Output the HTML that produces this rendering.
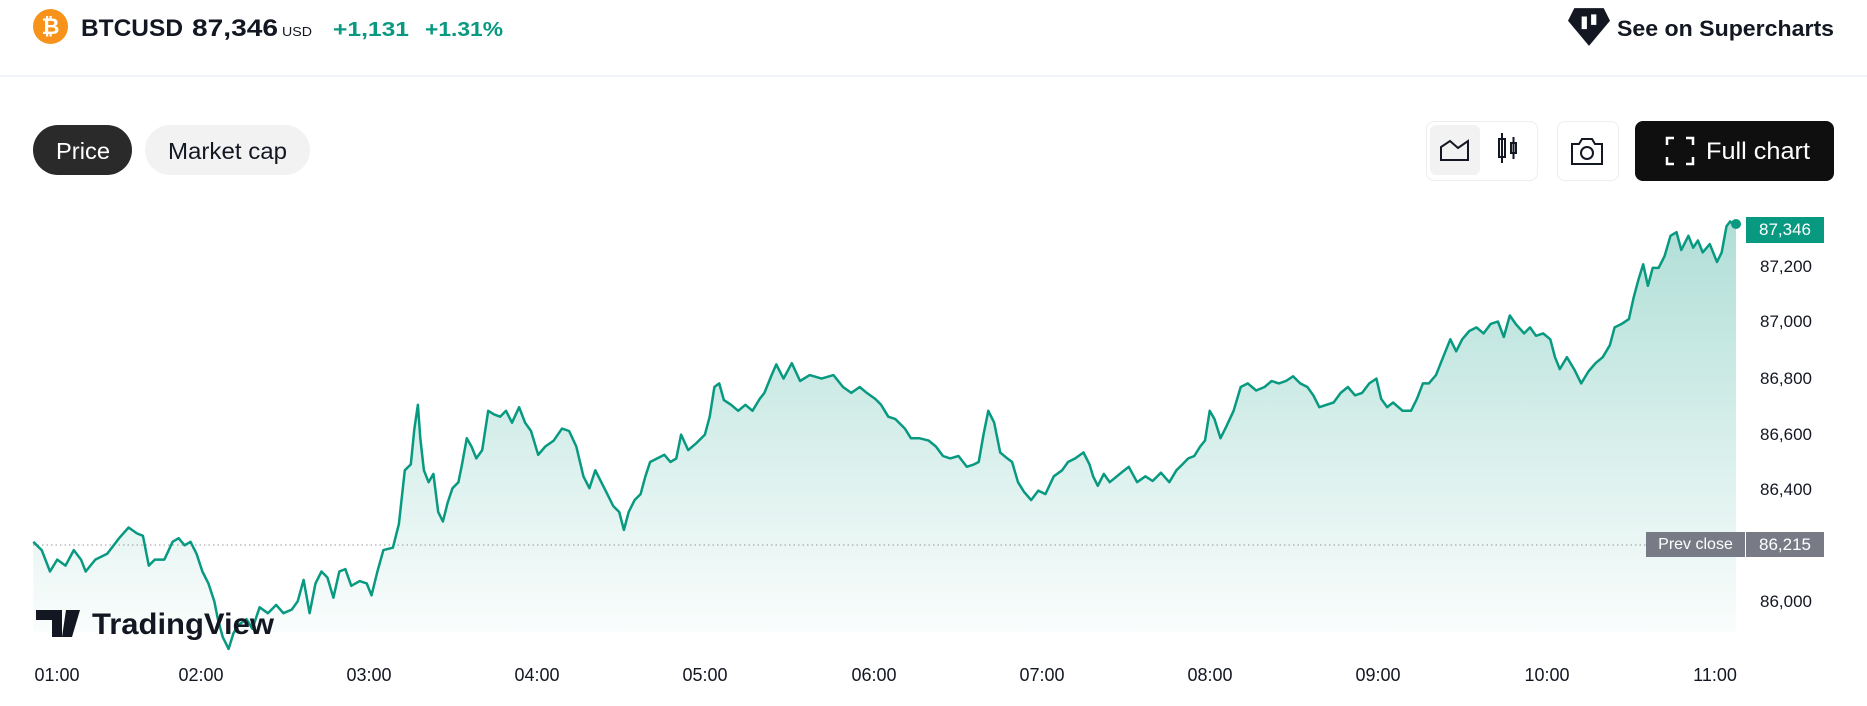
<!DOCTYPE html>
<html><head><meta charset="utf-8">
<style>
body{margin:0;width:1867px;height:706px;background:#fff;font-family:"Liberation Sans",sans-serif;position:relative;overflow:hidden;color:#131722}
.a{position:absolute;white-space:nowrap}
.yl{position:absolute;left:1760px;font-size:17px;color:#131722}
.xl{position:absolute;top:665px;font-size:18px;transform:translateX(-50%);color:#131722}
</style></head><body>
<div class="a" style="left:33px;top:9px;width:35px;height:35px;border-radius:50%;background:#f7931a;color:#fff;font-size:22px;font-weight:bold;text-align:center;line-height:35px">₿</div>
<div class="a" style="left:0;top:75px;width:1867px;height:2px;background:#f0f3fa"></div>
<div class="a" style="left:33px;top:125px;width:99px;height:50px;border-radius:25px;background:#2a2a2a"></div>
<div class="a" style="left:145px;top:125px;width:165px;height:50px;border-radius:25px;background:#f2f2f2"></div>
<svg class="a" style="left:1568px;top:8px" width="42" height="38" viewBox="0 0 40 36"><path d="M6 0H34L40 12L20 36L0 12Z" fill="#131722"/><rect x="13" y="8" width="5" height="12" fill="#fff"/><rect x="22" y="6" width="5" height="10" fill="#fff"/></svg>
<div class="a" style="left:1426px;top:121px;width:110px;height:58px;border:1px solid #eee;border-radius:8px"></div>
<div class="a" style="left:1430px;top:125px;width:50px;height:50px;background:#f2f2f2;border-radius:6px"></div>
<svg class="a" style="left:1438px;top:137px" width="34" height="26"><path d="M3 23V10L12 4L20 11L30 4V23Z" fill="none" stroke="#131722" stroke-width="2"/></svg>
<svg class="a" style="left:1496px;top:133px" width="24" height="34"><rect x="3" y="6" width="6" height="18" fill="none" stroke="#131722" stroke-width="2"/><line x1="6" y1="0" x2="6" y2="30" stroke="#131722" stroke-width="2"/><rect x="15" y="10" width="5" height="10" fill="none" stroke="#131722" stroke-width="2"/><line x1="17.5" y1="4" x2="17.5" y2="26" stroke="#131722" stroke-width="2"/></svg>
<div class="a" style="left:1557px;top:121px;width:60px;height:58px;border:1px solid #eee;border-radius:8px"></div>
<svg class="a" style="left:1570px;top:136px" width="34" height="30"><path d="M2 8H9L12 3H22L25 8H32V28H2Z" fill="none" stroke="#131722" stroke-width="2"/><circle cx="17" cy="17" r="6" fill="none" stroke="#131722" stroke-width="2"/></svg>
<div class="a" style="left:1635px;top:121px;width:199px;height:60px;background:#0f0f0f;border-radius:8px"></div>
<svg class="a" style="left:1665px;top:136px" width="30" height="30"><path d="M2 9V2H9M21 2H28V9M28 21V28H21M9 28H2V21" fill="none" stroke="#fff" stroke-width="2.5"/></svg>

<svg class="a" style="left:0;top:0" width="1867" height="706" font-family="Liberation Sans, sans-serif">
<defs><linearGradient id="g" gradientUnits="userSpaceOnUse" x1="0" y1="220" x2="0" y2="632"><stop offset="0" stop-color="#089981" stop-opacity="0.32"/><stop offset="1" stop-color="#089981" stop-opacity="0.02"/></linearGradient></defs>
<text x="81" y="36" font-size="24" font-weight="bold" fill="#131722" textLength="102" lengthAdjust="spacingAndGlyphs">BTCUSD</text>
<text x="192" y="36" font-size="24" font-weight="bold" fill="#131722" textLength="86" lengthAdjust="spacingAndGlyphs">87,346</text>
<text x="282" y="36" font-size="13" fill="#131722" textLength="30" lengthAdjust="spacingAndGlyphs">USD</text>
<text x="333" y="36" font-size="20" font-weight="bold" fill="#089981" textLength="76" lengthAdjust="spacingAndGlyphs">+1,131</text>
<text x="425" y="36" font-size="20" font-weight="bold" fill="#089981" textLength="78" lengthAdjust="spacingAndGlyphs">+1.31%</text>
<text x="1617" y="36" font-size="22" font-weight="bold" fill="#131722" textLength="217" lengthAdjust="spacingAndGlyphs">See on Supercharts</text>
<text x="56" y="159" font-size="23" fill="#fff" textLength="54" lengthAdjust="spacingAndGlyphs">Price</text>
<text x="168" y="159" font-size="23" fill="#131722" textLength="119" lengthAdjust="spacingAndGlyphs">Market cap</text>
<text x="1706" y="159" font-size="24" fill="#fff" textLength="104" lengthAdjust="spacingAndGlyphs">Full chart</text>
<path id="fill" fill="url(#g)"/>
<line x1="33" y1="545" x2="1646" y2="545" stroke="#9598a1" stroke-dasharray="1.5 3" stroke-width="1"/>
<path id="ln" fill="none" stroke="#089981" stroke-width="2.5" stroke-linejoin="round"/>
<circle cx="1736" cy="224" r="5" fill="#089981"/>
<path d="M36 610H62V637H52V620H36Z" fill="#131722"/><path d="M66 610H80L72 637H62Z" fill="#131722"/>
<text x="92" y="634" font-size="30" font-weight="bold" fill="#131722" textLength="182" lengthAdjust="spacingAndGlyphs">TradingView</text>
</svg>
<div class="a" style="left:1746px;top:217px;width:78px;height:26px;background:#089981;color:#fff;font-size:17px;text-align:center;line-height:26px">87,346</div>
<div class="yl" style="top:257px">87,200</div>
<div class="yl" style="top:312px">87,000</div>
<div class="yl" style="top:369px">86,800</div>
<div class="yl" style="top:425px">86,600</div>
<div class="yl" style="top:480px">86,400</div>
<div class="yl" style="top:592px">86,000</div>
<div class="a" style="left:1646px;top:532px;width:99px;height:25px;background:#787b86;color:#fff;font-size:16px;text-align:center;line-height:25px">Prev close</div>
<div class="a" style="left:1746px;top:532px;width:78px;height:25px;background:#787b86;color:#fff;font-size:17px;text-align:center;line-height:25px">86,215</div>
<div class="xl" style="left:57px">01:00</div>
<div class="xl" style="left:201px">02:00</div>
<div class="xl" style="left:369px">03:00</div>
<div class="xl" style="left:537px">04:00</div>
<div class="xl" style="left:705px">05:00</div>
<div class="xl" style="left:874px">06:00</div>
<div class="xl" style="left:1042px">07:00</div>
<div class="xl" style="left:1210px">08:00</div>
<div class="xl" style="left:1378px">09:00</div>
<div class="xl" style="left:1547px">10:00</div>
<div class="xl" style="left:1715px">11:00</div>
<script>
var p=[28,455,35,462,42,480,48,470,55,475,62,462,68,470,72,480,80,470,90,465,100,452,108,443,115,448,120,450,125,475,130,470,138,470,145,455,150,452,155,458,160,455,165,465,170,480,175,490,180,505,183,520,187,535,192,545,196,532,200,525,207,520,212,528,218,510,225,515,232,508,238,515,245,512,250,505,255,487,260,515,265,490,270,480,275,485,280,502,285,480,290,478,295,492,302,488,308,490,312,500,317,480,322,462,330,460,335,440,340,395,345,390,348,360,351,340,353,368,356,395,360,405,364,398,368,430,372,438,376,422,380,410,385,405,388,390,392,368,396,375,400,385,405,378,410,345,415,348,420,350,425,345,430,355,436,342,441,355,446,362,452,382,458,375,465,370,472,360,478,362,484,375,490,400,495,410,500,395,505,405,510,415,515,425,520,430,524,445,528,430,533,420,538,415,542,400,546,388,552,385,558,382,563,388,568,385,572,365,578,378,585,372,592,365,596,350,600,325,604,322,608,336,614,340,620,345,626,340,632,345,638,335,642,330,648,315,652,306,658,318,665,305,672,320,680,315,690,318,700,315,708,325,715,330,722,325,728,330,735,335,740,340,746,350,752,352,760,360,765,368,772,368,780,370,786,375,792,383,798,385,805,383,812,392,818,390,822,388,826,365,830,345,835,355,840,380,846,385,850,388,855,405,860,413,866,420,872,412,878,415,885,400,892,395,897,388,903,385,910,380,915,390,918,400,922,408,927,398,932,405,938,400,943,396,948,392,955,405,962,400,968,404,975,397,982,405,988,395,993,390,998,385,1003,383,1008,375,1012,370,1016,345,1020,352,1025,368,1030,358,1036,345,1042,325,1048,322,1055,328,1062,325,1068,320,1074,322,1080,320,1086,316,1092,322,1098,325,1103,332,1108,342,1114,340,1120,338,1126,330,1132,325,1138,332,1144,330,1150,322,1156,318,1160,335,1165,342,1170,338,1178,345,1185,345,1190,335,1195,322,1200,322,1206,315,1212,300,1218,285,1223,295,1228,285,1234,278,1240,275,1246,280,1252,272,1258,270,1263,283,1268,265,1273,272,1280,280,1285,275,1290,282,1296,280,1302,285,1306,300,1310,310,1316,300,1322,310,1328,322,1334,312,1340,305,1346,300,1352,290,1356,275,1362,272,1368,268,1372,250,1376,235,1380,222,1384,240,1388,225,1393,225,1398,215,1403,198,1408,195,1412,210,1418,198,1422,208,1426,202,1430,212,1436,205,1442,220,1446,212,1450,190,1453,186,1458,190];
var s=1867/1568,d="";
for(var i=0;i<p.length;i+=2){d+=(i?"L":"M")+(p[i]*s).toFixed(1)+" "+(p[i+1]*s).toFixed(1);}
document.getElementById("ln").setAttribute("d",d);
document.getElementById("fill").setAttribute("d",d+"L"+(1458*s).toFixed(1)+" 632L"+(28*s).toFixed(1)+" 632Z");
</script>
</body></html>
